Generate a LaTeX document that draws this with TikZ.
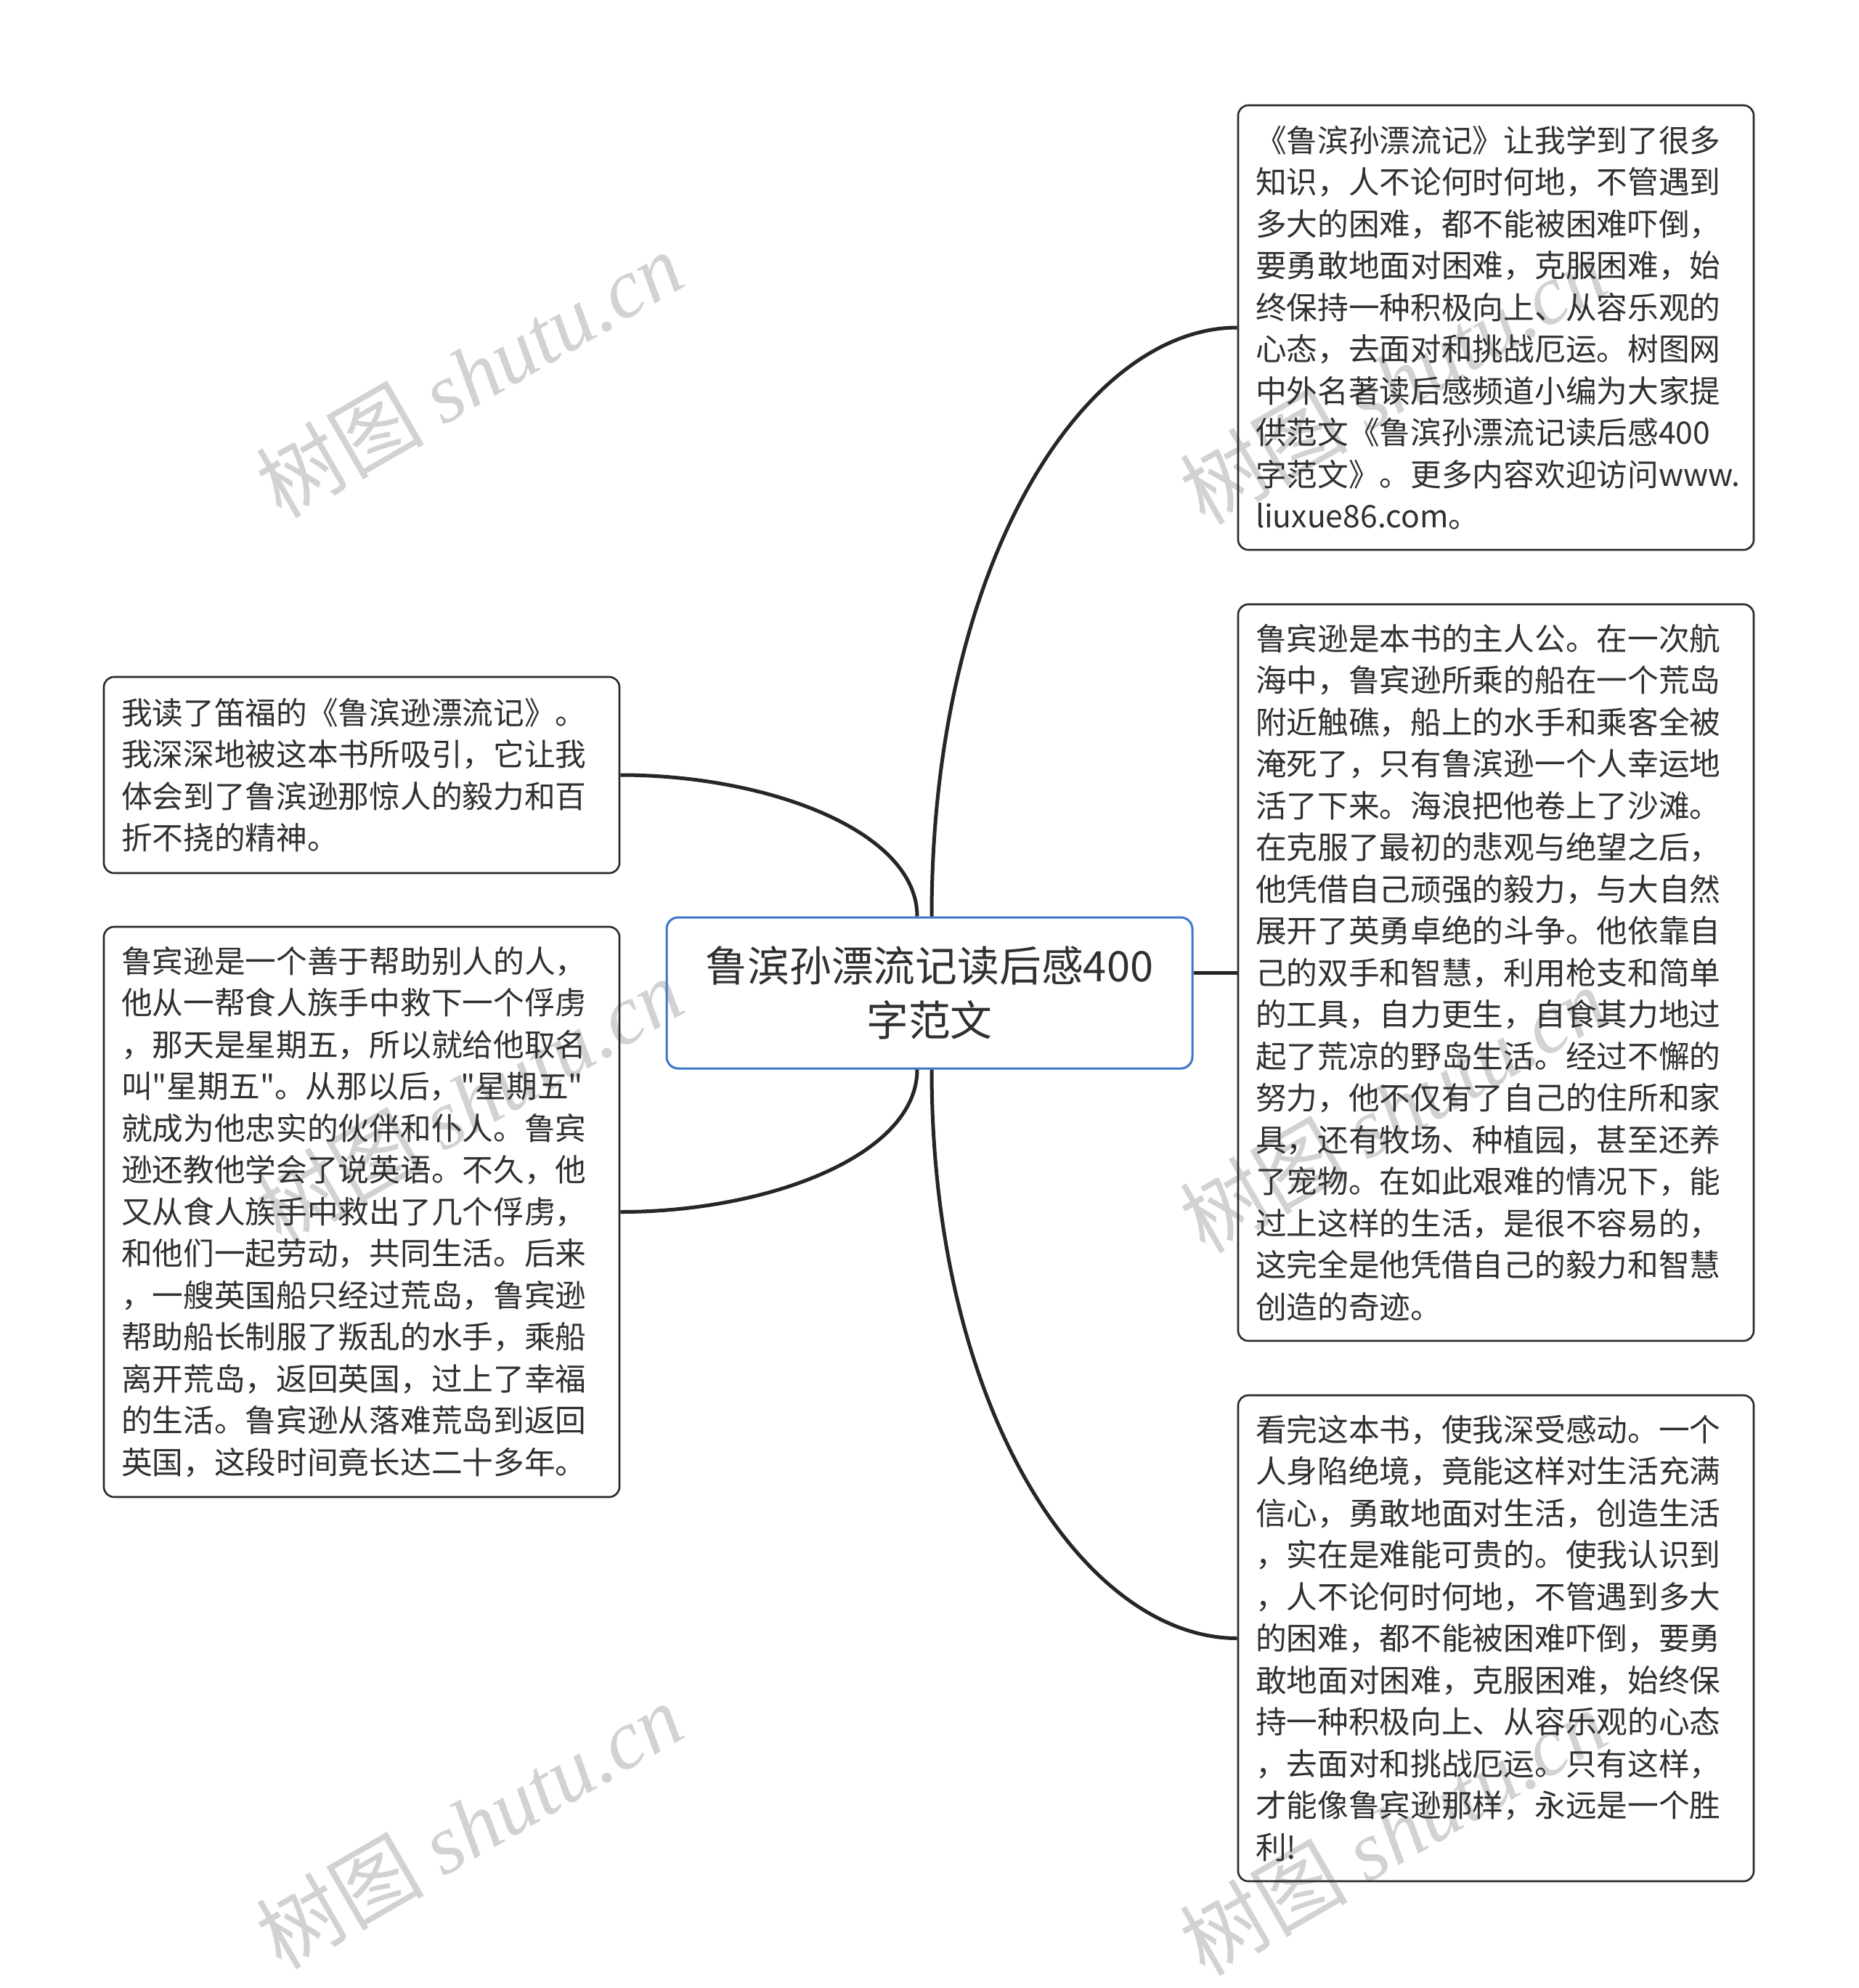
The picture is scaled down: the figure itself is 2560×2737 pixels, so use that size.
\documentclass[tikz,border=0pt]{standalone}
\usepackage{fontspec}
\setmainfont{Noto Sans CJK SC}
\newfontfamily\cjk{Noto Sans CJK SC}
\newfontfamily\wmlatin{Liberation Serif}
\usetikzlibrary{calc}
\definecolor{linec}{HTML}{262626}
\definecolor{boxc}{HTML}{2A2A2A}
\definecolor{bluec}{HTML}{3A78C9}
\definecolor{txt}{HTML}{303030}
\definecolor{wmc}{HTML}{D2D2D2}
\tikzset{
  leaf/.style={draw=boxc, line width=1.3pt, rounded corners=7pt, text=txt,
    align=left, text width=331pt, inner xsep=12pt, inner ysep=0pt,
    font=\cjk\fontsize{21.35pt}{28.75pt}\selectfont},
  root/.style={draw=bluec, line width=1.5pt, rounded corners=8pt, text=txt,
    align=center, minimum width=362pt, minimum height=104pt, inner sep=0pt,
    font=\cjk\fontsize{28.9pt}{37.5pt}\selectfont},
  link/.style={draw=linec, line width=2.5pt},
  wm/.style={text=wmc, rotate=30, inner sep=0pt, font=\cjk\fontsize{58pt}{62pt}\selectfont}
}
\begin{document}
\begin{tikzpicture}[x=0.5pt,y=-0.5pt]
\useasboundingbox (0,0) rectangle (2560,2737);
\fill[white] (0,0) rectangle (2560,2737);

\node[wm] (w1) at (646,515) {树图 {\wmlatin\itshape shutu.cn}};
\node[wm] (w2) at (646,1515) {树图 {\wmlatin\itshape shutu.cn}};
\node[wm] (w3) at (646,2513) {树图 {\wmlatin\itshape shutu.cn}};
\node[wm] (w4) at (1918,524) {树图 {\wmlatin\itshape shutu.cn}};
\node[wm] (w5) at (1918,1527) {树图 {\wmlatin\itshape shutu.cn}};
\node[wm] (w6) at (1918,2522) {树图 {\wmlatin\itshape shutu.cn}};

\node[root] (root) at (1280,1367) {鲁滨孙漂流记读后感400\\字范文};

\node[leaf, minimum height=306pt] (tr) at (2060,451) {《鲁滨孙漂流记》让我学到了很多\\知识，人不论何时何地，不管遇到\\多大的困难，都不能被困难吓倒，\\要勇敢地面对困难，克服困难，始\\终保持一种积极向上、从容乐观的\\心态，去面对和挑战厄运。树图网\\中外名著读后感频道小编为大家提\\供范文《鲁滨孙漂流记读后感400\\字范文》。更多内容欢迎访问www.\\liuxue86.com。};

\node[leaf, minimum height=507pt] (mr) at (2060,1339) {鲁宾逊是本书的主人公。在一次航\\海中，鲁宾逊所乘的船在一个荒岛\\附近触礁，船上的水手和乘客全被\\淹死了，只有鲁滨逊一个人幸运地\\活了下来。海浪把他卷上了沙滩。\\在克服了最初的悲观与绝望之后，\\他凭借自己顽强的毅力，与大自然\\展开了英勇卓绝的斗争。他依靠自\\己的双手和智慧，利用枪支和简单\\的工具，自力更生，自食其力地过\\起了荒凉的野岛生活。经过不懈的\\努力，他不仅有了自己的住所和家\\具，还有牧场、种植园，甚至还养\\了宠物。在如此艰难的情况下，能\\过上这样的生活，是很不容易的，\\这完全是他凭借自己的毅力和智慧\\创造的奇迹。};

\node[leaf, minimum height=334.5pt] (br) at (2060,2255.5) {看完这本书，使我深受感动。一个\\人身陷绝境，竟能这样对生活充满\\信心，勇敢地面对生活，创造生活\\，实在是难能可贵的。使我认识到\\，人不论何时何地，不管遇到多大\\的困难，都不能被困难吓倒，要勇\\敢地面对困难，克服困难，始终保\\持一种积极向上、从容乐观的心态\\，去面对和挑战厄运。只有这样，\\才能像鲁宾逊那样，永远是一个胜\\利!};

\node[leaf, minimum height=135pt] (lt) at (498,1067) {我读了笛福的《鲁滨逊漂流记》。\\我深深地被这本书所吸引，它让我\\体会到了鲁滨逊那惊人的毅力和百\\折不挠的精神。};

\node[leaf, minimum height=392.5pt] (lb) at (498,1668.5) {鲁宾逊是一个善于帮助别人的人，\\他从一帮食人族手中救下一个俘虏\\，那天是星期五，所以就给他取名\\叫"星期五"。从那以后，"星期五"\\就成为他忠实的伙伴和仆人。鲁宾\\逊还教他学会了说英语。不久，他\\又从食人族手中救出了几个俘虏，\\和他们一起劳动，共同生活。后来\\，一艘英国船只经过荒岛，鲁宾逊\\帮助船长制服了叛乱的水手，乘船\\离开荒岛，返回英国，过上了幸福\\的生活。鲁宾逊从落难荒岛到返回\\英国，这段时间竟长达二十多年。};

\coordinate (nR) at ([xshift=1.5pt]root.north);
\coordinate (nL) at ([xshift=-8.5pt]root.north);
\coordinate (sR) at ([xshift=1.5pt]root.south);
\coordinate (sL) at ([xshift=-8.5pt]root.south);

\draw[link] (nR) .. controls ($(nR)!0.6!(nR|-tr.west)$) and ($(tr.west)!0.5!(nR|-tr.west)$) .. (tr.west);
\draw[link] (sR) .. controls ($(sR)!0.6!(sR|-br.west)$) and ($(br.west)!0.5!(sR|-br.west)$) .. (br.west);
\draw[link] (nL) .. controls ($(nL)!0.6!(nL|-lt.east)$) and ($(lt.east)!0.5!(nL|-lt.east)$) .. (lt.east);
\draw[link] (sL) .. controls ($(sL)!0.6!(sL|-lb.east)$) and ($(lb.east)!0.5!(sL|-lb.east)$) .. (lb.east);
\draw[link] (root.east |- mr.west) -- (mr.west);
\end{tikzpicture}
\end{document}
